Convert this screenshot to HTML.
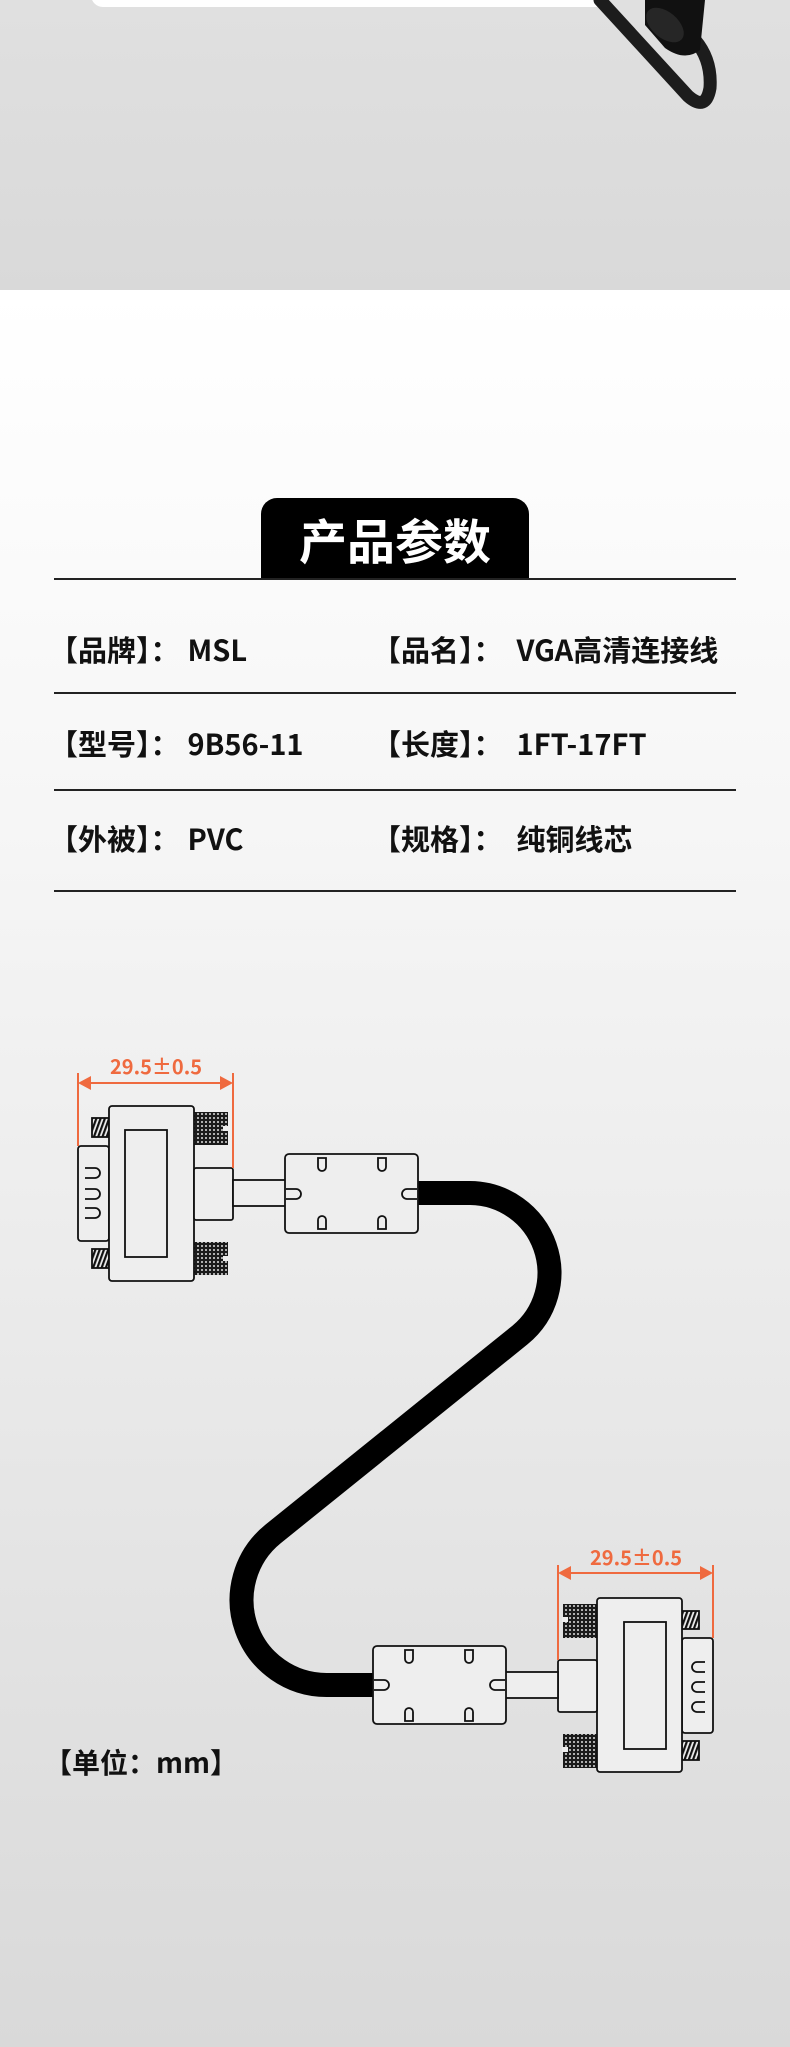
<!DOCTYPE html>
<html><head><meta charset="utf-8"><style>
html,body{margin:0;padding:0}
body{width:790px;height:2047px;position:relative;overflow:hidden;font-family:"Liberation Sans","Noto Sans CJK SC",sans-serif;}
.top{position:absolute;left:0;top:0;width:790px;height:290px;background:linear-gradient(#e0e0e0,#d9d9d9)}
.low{position:absolute;left:0;top:290px;width:790px;height:1757px;background:linear-gradient(#ffffff 0%,#f6f6f6 30%,#eeeeee 50%,#e3e3e3 75%,#d9d9d9 100%)}
.t{position:absolute;font-weight:bold;font-size:29px;color:#111;white-space:nowrap;line-height:1;font-family:"Noto Sans CJK SC",sans-serif}
.t span{margin-left:8px}
.t span.r{margin-left:14px}
.line{position:absolute;left:54px;width:682px;height:1.5px;background:#222}
</style></head><body>
<div class="top"></div>
<div class="low"></div>
<div style="position:absolute;left:91px;top:-20px;width:516px;height:27px;background:#fff;border-radius:0 0 12px 12px"></div>
<svg style="position:absolute;left:0;top:0" width="790" height="2047" viewBox="0 0 790 2047">
<defs>
<pattern id="chk" width="4" height="4" patternUnits="userSpaceOnUse"><rect width="4" height="4" fill="#1a1a1a"/><circle cx="2" cy="2" r="1" fill="#ddd"/></pattern>
<pattern id="hat" width="4" height="4" patternUnits="userSpaceOnUse" patternTransform="rotate(20)"><rect width="4" height="4" fill="#eee"/><rect width="2.2" height="4" fill="#111"/></pattern>
</defs>
<path d="M600,0 L688,96 Q706,112 710,88 Q712,60 695,40" fill="none" stroke="#1c1c1c" stroke-width="13" stroke-linecap="round"/>
<path d="M645,0 L705,0 L700,50 Q685,62 665,48 L645,25 Z" fill="#111"/>
<ellipse cx="665" cy="25" rx="22" ry="13" fill="#262626" transform="rotate(40 665 25)"/>
<path d="M418,1193 L470,1193 A80,80 0 0 1 520,1335 L273,1534 A85,85 0 0 0 327,1685 L376,1685" fill="none" stroke="#000" stroke-width="24"/>
<g fill="#eee" stroke="#111" stroke-width="1.8">
<rect x="78" y="1146" width="31" height="95" rx="3"/>
<rect x="92" y="1118" width="17" height="19" fill="url(#hat)"/>
<rect x="92" y="1249" width="17" height="19" fill="url(#hat)"/>
<rect x="194" y="1112" width="34" height="33" fill="url(#chk)" stroke="none"/>
<rect x="194" y="1242" width="34" height="33" fill="url(#chk)" stroke="none"/>
<rect x="223" y="1126" width="6" height="5" fill="#eee" stroke="none"/>
<rect x="223" y="1256" width="6" height="5" fill="#eee" stroke="none"/>
<rect x="109" y="1106" width="85" height="175" rx="3"/>
<rect x="125" y="1130" width="42" height="127"/>
<rect x="194" y="1168" width="39" height="52" rx="2"/>
<rect x="233" y="1180" width="53" height="26"/>
<rect x="285" y="1154" width="133" height="79" rx="4"/>
<rect x="682" y="1638" width="31" height="95" rx="3"/>
<rect x="682" y="1611" width="17" height="18" fill="url(#hat)"/>
<rect x="682" y="1741" width="17" height="19" fill="url(#hat)"/>
<rect x="563" y="1604" width="34" height="34" fill="url(#chk)" stroke="none"/>
<rect x="563" y="1734" width="34" height="34" fill="url(#chk)" stroke="none"/>
<rect x="562" y="1617" width="6" height="5" fill="#eee" stroke="none"/>
<rect x="562" y="1747" width="6" height="5" fill="#eee" stroke="none"/>
<rect x="597" y="1598" width="85" height="174" rx="3"/>
<rect x="624" y="1622" width="42" height="127"/>
<rect x="558" y="1660" width="39" height="52" rx="2"/>
<rect x="505" y="1672" width="53" height="26"/>
<rect x="373" y="1646" width="133" height="78" rx="4"/>
</g>
<g fill="none" stroke="#111" stroke-width="1.8">
<path d="M85,1168 h10 a5,5 0 0 1 0,10 h-10 M85,1189 h10 a5,5 0 0 1 0,10 h-10 M85,1208 h10 a5,5 0 0 1 0,10 h-10"/>
<path d="M705,1662 h-8 a5,5 0 0 0 0,10 h8 M705,1682 h-8 a5,5 0 0 0 0,10 h8 M705,1702 h-8 a5,5 0 0 0 0,10 h8"/>
<path d="M318,1158 v9 a4,4 0 0 0 8,0 v-9 z M378,1158 v9 a4,4 0 0 0 8,0 v-9 z M318,1229 v-9 a4,4 0 0 1 8,0 v9 z M378,1229 v-9 a4,4 0 0 1 8,0 v9 z"/>
<path d="M286,1189 h10 a5,5 0 0 1 0,10 h-10 M417,1189 h-10 a5,5 0 0 0 0,10 h10"/>
<path d="M405,1650 v9 a4,4 0 0 0 8,0 v-9 z M465,1650 v9 a4,4 0 0 0 8,0 v-9 z M405,1721 v-9 a4,4 0 0 1 8,0 v9 z M465,1721 v-9 a4,4 0 0 1 8,0 v9 z"/>
<path d="M374,1680 h10 a5,5 0 0 1 0,10 h-10 M505,1680 h-10 a5,5 0 0 0 0,10 h10"/>
</g>
<g stroke="#ef6a3f" stroke-width="2" fill="#ef6a3f">
<line x1="78" y1="1073" x2="78" y2="1146"/><line x1="233" y1="1073" x2="233" y2="1168"/>
<line x1="88" y1="1083" x2="223" y2="1083"/>
<path d="M78,1083 l13,-7 v14 z M233,1083 l-13,-7 v14 z" stroke="none"/>
<line x1="558" y1="1565" x2="558" y2="1660"/><line x1="713" y1="1565" x2="713" y2="1638"/>
<line x1="568" y1="1573" x2="703" y2="1573"/>
<path d="M558,1573 l13,-7 v14 z M713,1573 l-13,-7 v14 z" stroke="none"/>
</g>
<g fill="#ef6a3f" font-size="20" font-weight="bold" font-family="Noto Sans CJK SC,sans-serif" text-anchor="middle">
<text x="156" y="1074">29.5±0.5</text>
<text x="636" y="1565">29.5±0.5</text>
</g>
</svg>
<div style="position:absolute;left:261px;top:498px;width:268px;height:81px;background:#000;border-radius:16px 16px 0 0"></div>
<div class="t" style="left:261px;width:268px;top:514px;text-align:center;color:#fff;font-size:48px">产品参数</div>
<div class="line" style="top:578px"></div>
<div class="line" style="top:692px"></div>
<div class="line" style="top:789px"></div>
<div class="line" style="top:890px"></div>
<div class="t" style="left:49px;top:635px">【品牌】：<span>MSL</span></div>
<div class="t" style="left:372px;top:635px">【品名】：<span class="r">VGA高清连接线</span></div>
<div class="t" style="left:49px;top:729px">【型号】：<span>9B56-11</span></div>
<div class="t" style="left:372px;top:729px">【长度】：<span class="r">1FT-17FT</span></div>
<div class="t" style="left:49px;top:824px">【外被】：<span>PVC</span></div>
<div class="t" style="left:372px;top:824px">【规格】：<span class="r">纯铜线芯</span></div>
<div class="t" style="left:44px;top:1748px;font-size:28px">【单位：mm】</div>
</body></html>
